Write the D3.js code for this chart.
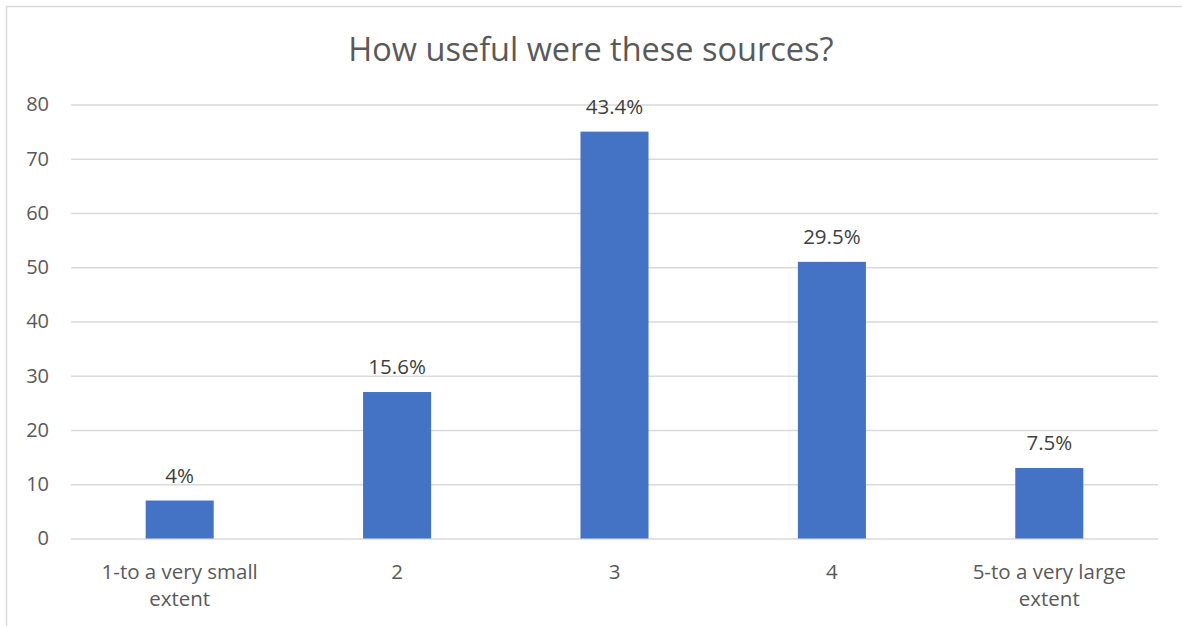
<!DOCTYPE html>
<html>
<head>
<meta charset="utf-8">
<script src="https://cdn.jsdelivr.net/npm/d3@7"></script>
<style>
  html, body { margin: 0; padding: 0; background: #fff; }
  svg { display: block; font-family: "Open Sans", "Noto Sans", sans-serif; }
</style>
</head>
<body>
<svg id="chart" width="1182" height="626"></svg>
<script>
// Survey responses per usefulness rating
const categories = ["1-to a very small extent", "2", "3", "4", "5-to a very large extent"];
const counts = [7, 27, 75, 51, 13];
const shareLabels = ["4%", "15.6%", "43.4%", "29.5%", "7.5%"];
const yTicks = [0, 10, 20, 30, 40, 50, 60, 70, 80];
const chartTitle = "How useful were these sources?";

const svg = d3.select("#chart");
const W = 1182, H = 626;
const margin = { left: 71, right: 24, top: 104.5, bottom: 87.5 };
const plotW = W - margin.left - margin.right;
const plotH = H - margin.top - margin.bottom;

// outer chart frame
svg.append("rect")
  .attr("x", 6.5).attr("y", 6.5)
  .attr("width", W + 10).attr("height", H + 10)
  .attr("fill", "#fff").attr("stroke", "#d9d9d9").attr("stroke-width", 1.5);

svg.append("text")
  .attr("x", 591).attr("y", 61)
  .attr("text-anchor", "middle")
  .attr("font-size", 32.5)
  .attr("fill", "#595959")
  .text(chartTitle);

const g = svg.append("g").attr("transform", `translate(${margin.left},${margin.top})`);

const x = d3.scaleBand().domain(categories).range([0, plotW]).paddingInner(0.687).paddingOuter(0.3435);
const y = d3.scaleLinear().domain([0, 80]).range([plotH, 0]);

// horizontal gridlines with value labels
const yAxis = g.append("g").call(
  d3.axisLeft(y).tickValues(yTicks).tickSize(-plotW).tickPadding(22)
);
yAxis.select(".domain").remove();
yAxis.selectAll(".tick line").attr("stroke", "#d9d9d9").attr("stroke-width", 1.5);
yAxis.selectAll(".tick text")
  .attr("font-size", 20).attr("fill", "#595959")
  .attr("font-family", "\"Open Sans\", sans-serif");

// bars
g.selectAll("rect.bar")
  .data(counts)
  .join("rect")
  .attr("class", "bar")
  .attr("x", (d, i) => x(categories[i]))
  .attr("y", d => y(d))
  .attr("width", x.bandwidth())
  .attr("height", d => plotH - y(d))
  .attr("fill", "#4472c4");

// share labels above bars
g.selectAll("text.share")
  .data(counts)
  .join("text")
  .attr("class", "share")
  .attr("x", (d, i) => x(categories[i]) + x.bandwidth() / 2)
  .attr("y", d => y(d) - 18)
  .attr("text-anchor", "middle")
  .attr("font-size", 20.5)
  .attr("fill", "#404040")
  .text((d, i) => shareLabels[i]);

// category labels, wrapped
const wrapLines = {
  "1-to a very small extent": ["1-to a very small", "extent"],
  "5-to a very large extent": ["5-to a very large", "extent"]
};
const xl = g.append("g").attr("transform", `translate(0,${plotH})`);
categories.forEach(c => {
  const lines = wrapLines[c] || [c];
  const t = xl.append("text")
    .attr("x", x(c) + x.bandwidth() / 2)
    .attr("y", 40)
    .attr("text-anchor", "middle")
    .attr("font-size", 20.5)
    .attr("fill", "#595959");
  lines.forEach((ln, k) => {
    t.append("tspan").attr("x", x(c) + x.bandwidth() / 2).attr("dy", k === 0 ? 0 : 27).text(ln);
  });
});
</script>
</body>
</html>
